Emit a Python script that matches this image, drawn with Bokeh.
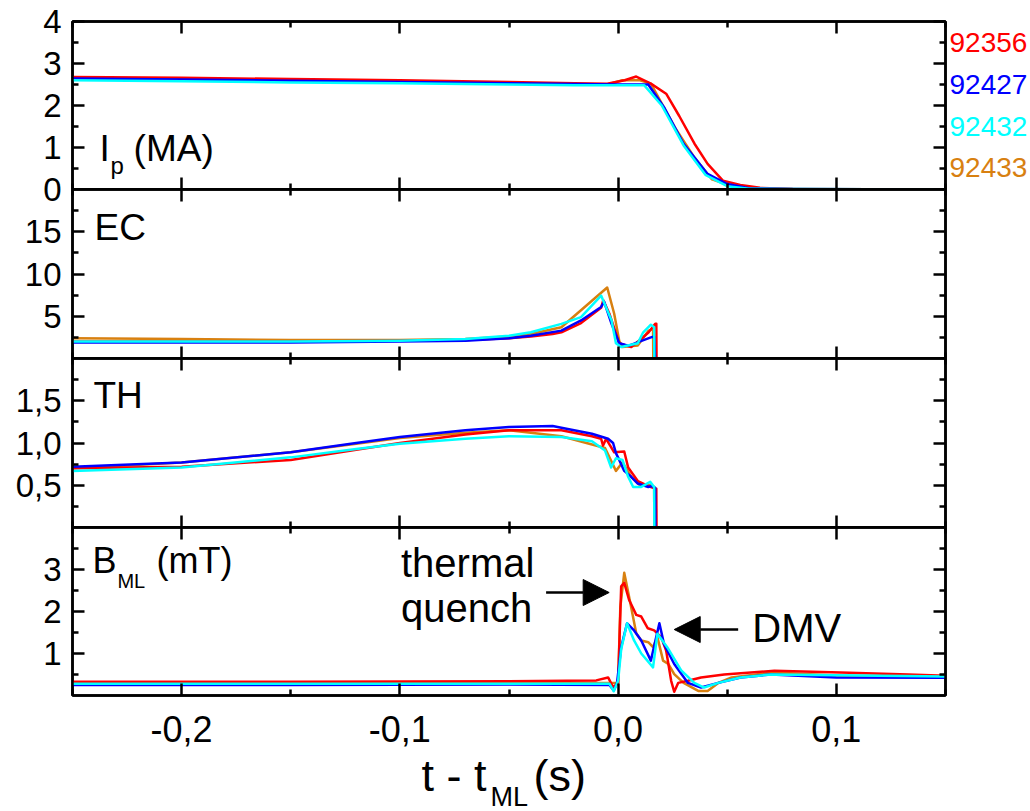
from bokeh.plotting import figure
from bokeh.models import (Range1d, LinearAxis, FixedTicker, CustomJSTickFormatter,
                          Label, Arrow, NormalHead)
from bokeh.layouts import column
from bokeh.embed import file_html
from bokeh.resources import INLINE

FONT = "Liberation Sans"
shots = ["92356", "92427", "92432", "92433"]
colors = ["#ff0000", "#0000ff", "#00ffff", "#d88010"]
draw_order = [3, 0, 1, 2]

# ---------------- Panel 1: plasma current Ip (MA) ----------------
ip_x_92356 = [-0.25, -0.2, -0.15, -0.1, -0.05, -0.02, -0.005, 0.003, 0.0083, 0.015, 0.022, 0.028, 0.035, 0.041, 0.048, 0.056, 0.065, 0.08, 0.15]
ip_y_92356 = [2.68, 2.66, 2.63, 2.6, 2.56, 2.53, 2.52, 2.6, 2.69, 2.52, 2.28, 1.75, 1.09, 0.61, 0.21, 0.11, 0.04, 0.01, 0.0]
ip_x_92427 = [-0.25, -0.2, -0.15, -0.1, -0.05, -0.02, 0.0, 0.0138, 0.021, 0.030, 0.041, 0.05, 0.06, 0.08, 0.15]
ip_y_92427 = [2.64, 2.62, 2.59, 2.56, 2.53, 2.51, 2.5, 2.5, 1.96, 1.09, 0.37, 0.13, 0.03, 0.01, 0.0]
ip_x_92432 = [-0.25, -0.2, -0.15, -0.1, -0.05, -0.02, 0.0, 0.012, 0.02, 0.03, 0.04, 0.05, 0.06, 0.08, 0.15]
ip_y_92432 = [2.6, 2.58, 2.55, 2.53, 2.5, 2.48, 2.48, 2.48, 2.0, 1.05, 0.35, 0.08, 0.02, 0.01, 0.0]
ip_x_92433 = [-0.25, -0.2, -0.15, -0.1, -0.05, -0.02, -0.005, 0.002, 0.01, 0.015, 0.026, 0.035, 0.043, 0.052, 0.06, 0.08, 0.15]
ip_y_92433 = [2.63, 2.61, 2.58, 2.56, 2.53, 2.51, 2.5, 2.6, 2.6, 2.52, 1.48, 0.76, 0.24, 0.08, 0.02, 0.01, 0.0]

# ---------------- Panel 2: EC ----------------
ec_x_92356 = [-0.25, -0.2, -0.15, -0.1, -0.07, -0.05, -0.04, -0.03, -0.026, -0.017, -0.0078, -0.0068, -0.004, 0.0005, 0.006, 0.0105, 0.014, 0.017, 0.0175, 0.0176]
ec_y_92356 = [2.0, 2.0, 2.0, 2.1, 2.2, 2.4, 2.6, 2.9, 3.1, 4.2, 6.0, 6.9, 5.3, 1.8, 1.35, 2.3, 3.1, 4.1, 4.1, 0.0]
ec_x_92427 = [-0.25, -0.2, -0.15, -0.1, -0.07, -0.05, -0.04, -0.026, -0.017, -0.0078, -0.0064, -0.003, 0.0005, 0.0046, 0.015, 0.0165, 0.017]
ec_y_92427 = [1.9, 1.9, 1.9, 2.0, 2.1, 2.4, 2.7, 3.3, 4.5, 6.1, 6.7, 4.1, 1.8, 1.5, 2.5, 2.6, 0.0]
ec_x_92432 = [-0.25, -0.2, -0.15, -0.1, -0.07, -0.05, -0.04, -0.026, -0.017, -0.0078, -0.003, -0.001, 0.0014, 0.009, 0.0115, 0.015, 0.0165, 0.0166]
ec_y_92432 = [2.0, 2.0, 2.0, 2.1, 2.3, 2.7, 3.1, 4.1, 4.9, 7.45, 4.5, 1.8, 1.35, 1.8, 3.1, 4.0, 3.7, 0.0]
ec_x_92433 = [-0.25, -0.2, -0.15, -0.1, -0.07, -0.05, -0.04, -0.026, -0.005, -0.0018, 0.0005, 0.002, 0.009, 0.014, 0.016, 0.0161]
ec_y_92433 = [2.4, 2.3, 2.2, 2.2, 2.3, 2.6, 2.9, 3.7, 8.4, 5.3, 2.1, 1.35, 1.55, 3.3, 3.5, 0.0]

# ---------------- Panel 3: TH ----------------
th_x_92356 = [-0.25, -0.2, -0.15, -0.12, -0.1, -0.07, -0.05, -0.026, -0.012, -0.0078, -0.0069, -0.0055, -0.0018, 0.0028, 0.0046, 0.009, 0.0147, 0.017, 0.0175, 0.0176]
th_y_92356 = [0.7, 0.72, 0.8, 0.92, 1.0, 1.1, 1.15, 1.15, 1.08, 1.05, 0.97, 1.05, 0.89, 0.9, 0.71, 0.55, 0.48, 0.46, 0.46, 0.0]
th_x_92427 = [-0.25, -0.2, -0.15, -0.12, -0.1, -0.07, -0.05, -0.03, -0.026, -0.012, -0.0046, -0.0023, -0.001, 0.0005, 0.0028, 0.006, 0.009, 0.0138, 0.0156, 0.017, 0.0171]
th_y_92427 = [0.72, 0.77, 0.89, 1.0, 1.07, 1.15, 1.19, 1.2, 1.18, 1.11, 1.05, 1.0, 0.88, 0.8, 0.67, 0.6, 0.52, 0.48, 0.49, 0.47, 0.0]
th_x_92432 = [-0.25, -0.2, -0.15, -0.12, -0.1, -0.07, -0.05, -0.026, -0.012, -0.006, -0.0032, -0.001, 0.002, 0.0046, 0.0069, 0.0106, 0.0147, 0.0165, 0.0166]
th_y_92432 = [0.67, 0.71, 0.83, 0.93, 0.99, 1.05, 1.08, 1.07, 1.02, 0.91, 0.71, 0.82, 0.8, 0.6, 0.48, 0.48, 0.54, 0.48, 0.0]
th_x_92433 = [-0.25, -0.2, -0.15, -0.12, -0.1, -0.07, -0.05, -0.026, -0.006, -0.001, 0.002, 0.006, 0.01, 0.015, 0.0165, 0.0166]
th_y_92433 = [0.7, 0.77, 0.89, 0.99, 1.06, 1.12, 1.15, 1.08, 0.94, 0.67, 0.77, 0.6, 0.5, 0.5, 0.48, 0.0]

# ---------------- Panel 4: B_ML (mT) ----------------
bml_x_92356 = [-0.25, -0.15, -0.05, -0.01, -0.0046, -0.0023, 0.0, 0.0014, 0.0028, 0.005, 0.0083, 0.0106, 0.0136, 0.0165, 0.0197, 0.022, 0.0243, 0.0257, 0.0275, 0.032, 0.038, 0.0486, 0.0716, 0.102, 0.133, 0.15]
bml_y_92356 = [0.33, 0.33, 0.34, 0.36, 0.43, 0.2, 0.3, 2.6, 2.68, 2.28, 1.92, 1.88, 1.6, 1.55, 1.39, 1.07, 0.35, 0.09, 0.3, 0.35, 0.43, 0.5, 0.59, 0.55, 0.5, 0.47]
bml_x_92427 = [-0.25, -0.15, -0.05, -0.004, -0.002, -0.0005, 0.0014, 0.0041, 0.0073, 0.0106, 0.015, 0.0189, 0.021, 0.0257, 0.032, 0.038, 0.0459, 0.0561, 0.07, 0.1, 0.15]
bml_y_92427 = [0.25, 0.25, 0.26, 0.25, 0.12, 0.3, 1.15, 1.72, 1.55, 1.31, 0.83, 1.72, 1.23, 0.75, 0.3, 0.19, 0.3, 0.43, 0.5, 0.43, 0.42]
bml_x_92432 = [-0.25, -0.15, -0.05, -0.004, -0.002, 0.0, 0.0014, 0.0041, 0.0073, 0.0106, 0.016, 0.018, 0.0225, 0.0289, 0.0349, 0.0394, 0.0459, 0.056, 0.07, 0.15]
bml_y_92432 = [0.28, 0.28, 0.28, 0.28, 0.1, 0.35, 1.1, 1.72, 1.31, 1.0, 0.67, 1.47, 1.15, 0.6, 0.3, 0.19, 0.3, 0.43, 0.5, 0.45]
bml_x_92433 = [-0.25, -0.15, -0.05, -0.002, 0.0, 0.001, 0.0028, 0.005, 0.0083, 0.0106, 0.0138, 0.016, 0.018, 0.0206, 0.023, 0.0257, 0.030, 0.0367, 0.041, 0.0459, 0.052, 0.0716, 0.102, 0.15]
bml_y_92433 = [0.3, 0.3, 0.3, 0.3, 0.3, 2.1, 2.92, 2.36, 1.48, 1.31, 1.27, 1.15, 1.39, 0.83, 0.75, 0.51, 0.3, 0.11, 0.11, 0.3, 0.43, 0.55, 0.47, 0.45]

x_ticks = [-0.2, -0.1, 0.0, 0.1]
x_minor = [-0.25, -0.15, -0.05, 0.05, 0.15]

fmt1 = CustomJSTickFormatter(code="return tick.toFixed(1).replace('.', ',');")
fmt0 = CustomJSTickFormatter(code="return tick.toFixed(0);")
fmt0_no_zero = CustomJSTickFormatter(code="return tick == 0 ? '' : tick.toFixed(0);")
fmt_none = CustomJSTickFormatter(code="return '';")

W_LEFT, W_FRAME, W_RIGHT = 72, 873, 73


def style_axis(ax, ticks, minor, fmt, labels, size):
    ax.ticker = FixedTicker(ticks=ticks, minor_ticks=minor)
    ax.axis_line_color = "black"
    ax.axis_line_width = 2.5
    ax.major_tick_in = 12
    ax.major_tick_out = 0
    ax.minor_tick_in = 6
    ax.minor_tick_out = 0
    ax.major_tick_line_width = 2.5
    ax.minor_tick_line_width = 2.5
    if labels:
        ax.formatter = fmt
        ax.major_label_text_font = FONT
        ax.major_label_text_font_size = size
        ax.major_label_text_color = "black"
    else:
        ax.formatter = fmt_none
        ax.major_label_text_font_size = "0px"
        ax.major_label_standoff = 0


def make_panel(yr, fh, tb, bb, overlap, yticks, yminor, yfmt, xlabels):
    p = figure(x_range=Range1d(-0.25, 0.15), y_range=Range1d(*yr),
               frame_width=W_FRAME, frame_height=fh,
               x_axis_type=None, y_axis_type=None,
               output_backend="svg", toolbar_location=None,
               min_border_left=W_LEFT, min_border_right=W_RIGHT,
               min_border_top=tb, min_border_bottom=bb)
    p.outline_line_color = "black"
    p.outline_line_width = 2.5
    p.background_fill_color = "white"
    if overlap:
        p.border_fill_color = None
        p.margin = (-overlap, 0, 0, 0)
    else:
        p.border_fill_color = "white"
    left = LinearAxis()
    style_axis(left, yticks, yminor, yfmt, True, "33px")
    left.major_label_standoff = 11
    p.add_layout(left, "left")
    right = LinearAxis()
    style_axis(right, yticks, yminor, yfmt, False, None)
    p.add_layout(right, "right")
    top = LinearAxis()
    style_axis(top, x_ticks, x_minor, fmt1, False, None)
    p.add_layout(top, "above")
    bottom = LinearAxis()
    style_axis(bottom, x_ticks, x_minor, fmt1, xlabels, "36px")
    if xlabels:
        bottom.major_label_standoff = 20
    p.add_layout(bottom, "below")
    return p


def add_lines(p, xs, ys):
    for i in draw_order:
        p.line(xs[i], ys[i], line_color=colors[i], line_width=2.5, line_join="round")


def lab(p, x, y, text, size, color="black", align="left"):
    p.add_layout(Label(x=x, y=y, text=text, text_font=FONT, text_font_size=size,
                       text_color=color, text_align=align, text_baseline="middle"))


# Panel 1
p1 = make_panel((0, 4), 168, 21, 14, 0, [0, 1, 2, 3, 4], [0.5, 1.5, 2.5, 3.5], fmt0_no_zero, False)
add_lines(p1, [ip_x_92356, ip_x_92427, ip_x_92432, ip_x_92433],
          [ip_y_92356, ip_y_92427, ip_y_92432, ip_y_92433])
lab(p1, -0.2376, 0.983, "I", "37px")
lab(p1, -0.2326, 0.562, "p", "24px")
lab(p1, -0.2220, 0.983, "(MA)", "37px")

# Panel 2
p2 = make_panel((0, 20), 169, 14, 14, 28, [5, 10, 15], [2.5, 7.5, 12.5, 17.5], fmt0, False)
add_lines(p2, [ec_x_92356, ec_x_92427, ec_x_92432, ec_x_92433],
          [ec_y_92356, ec_y_92427, ec_y_92432, ec_y_92433])
lab(p2, -0.2399, 15.54, "EC", "37px")

# Panel 3
p3 = make_panel((0, 2), 169, 14, 14, 28, [0.5, 1.0, 1.5], [0.25, 0.75, 1.25, 1.75], fmt1, False)
add_lines(p3, [th_x_92356, th_x_92427, th_x_92432, th_x_92433],
          [th_y_92356, th_y_92427, th_y_92432, th_y_92433])
lab(p3, -0.2404, 1.566, "TH", "37px")

# Panel 4
p4 = make_panel((0, 4), 168, 14, 116, 28, [1, 2, 3], [0.5, 1.5, 2.5, 3.5], fmt0, True)
add_lines(p4, [bml_x_92356, bml_x_92427, bml_x_92432, bml_x_92433],
          [bml_y_92356, bml_y_92427, bml_y_92432, bml_y_92433])
lab(p4, -0.2408, 3.214, "B", "36px")
lab(p4, -0.2294, 2.719, "ML", "20px")
lab(p4, -0.2115, 3.214, "(mT)", "36px")
lab(p4, -0.0995, 3.152, "thermal", "40px")
lab(p4, -0.0995, 2.081, "quench", "40px")
lab(p4, 0.0615, 1.605, "DMV", "40px")
p4.add_layout(Arrow(end=NormalHead(size=26, fill_color="black", line_color="black"),
                    x_start=-0.033, y_start=2.452, x_end=-0.0041, y_end=2.452,
                    line_width=2.5, line_color="black"))
p4.add_layout(Arrow(end=NormalHead(size=26, fill_color="black", line_color="black"),
                    x_start=0.055, y_start=1.571, x_end=0.0257, y_end=1.571,
                    line_width=2.5, line_color="black"))

# Transparent overlay (page pixel coordinates, y downward) for texts outside the frames
ov = figure(x_range=Range1d(0, 1030), y_range=Range1d(811, 0),
            frame_width=1030, frame_height=811,
            x_axis_type=None, y_axis_type=None,
            output_backend="svg", toolbar_location=None,
            min_border_left=0, min_border_right=0, min_border_top=0, min_border_bottom=0)
ov.frame_align = False
ov.outline_line_color = None
ov.background_fill_color = None
ov.border_fill_color = None
ov.margin = (-811, 0, 0, 0)

legend_y = [42, 84, 126, 167]
for s, c, yy in zip(shots, colors, legend_y):
    lab(ov, 949, yy, s, "28px", color=c)
# "0" tick label of the Ip axis, sitting on the border between panels
lab(ov, 61, 189, "0", "33px", align="right")
# x-axis title t - t_ML (s)
lab(ov, 421, 775, "t - t", "45px")
lab(ov, 490, 796, "ML", "27px")
lab(ov, 533, 775, "(s)", "45px")

layout = column(p1, p2, p3, p4, ov)
open("out.html", "w").write(file_html(layout, INLINE))
